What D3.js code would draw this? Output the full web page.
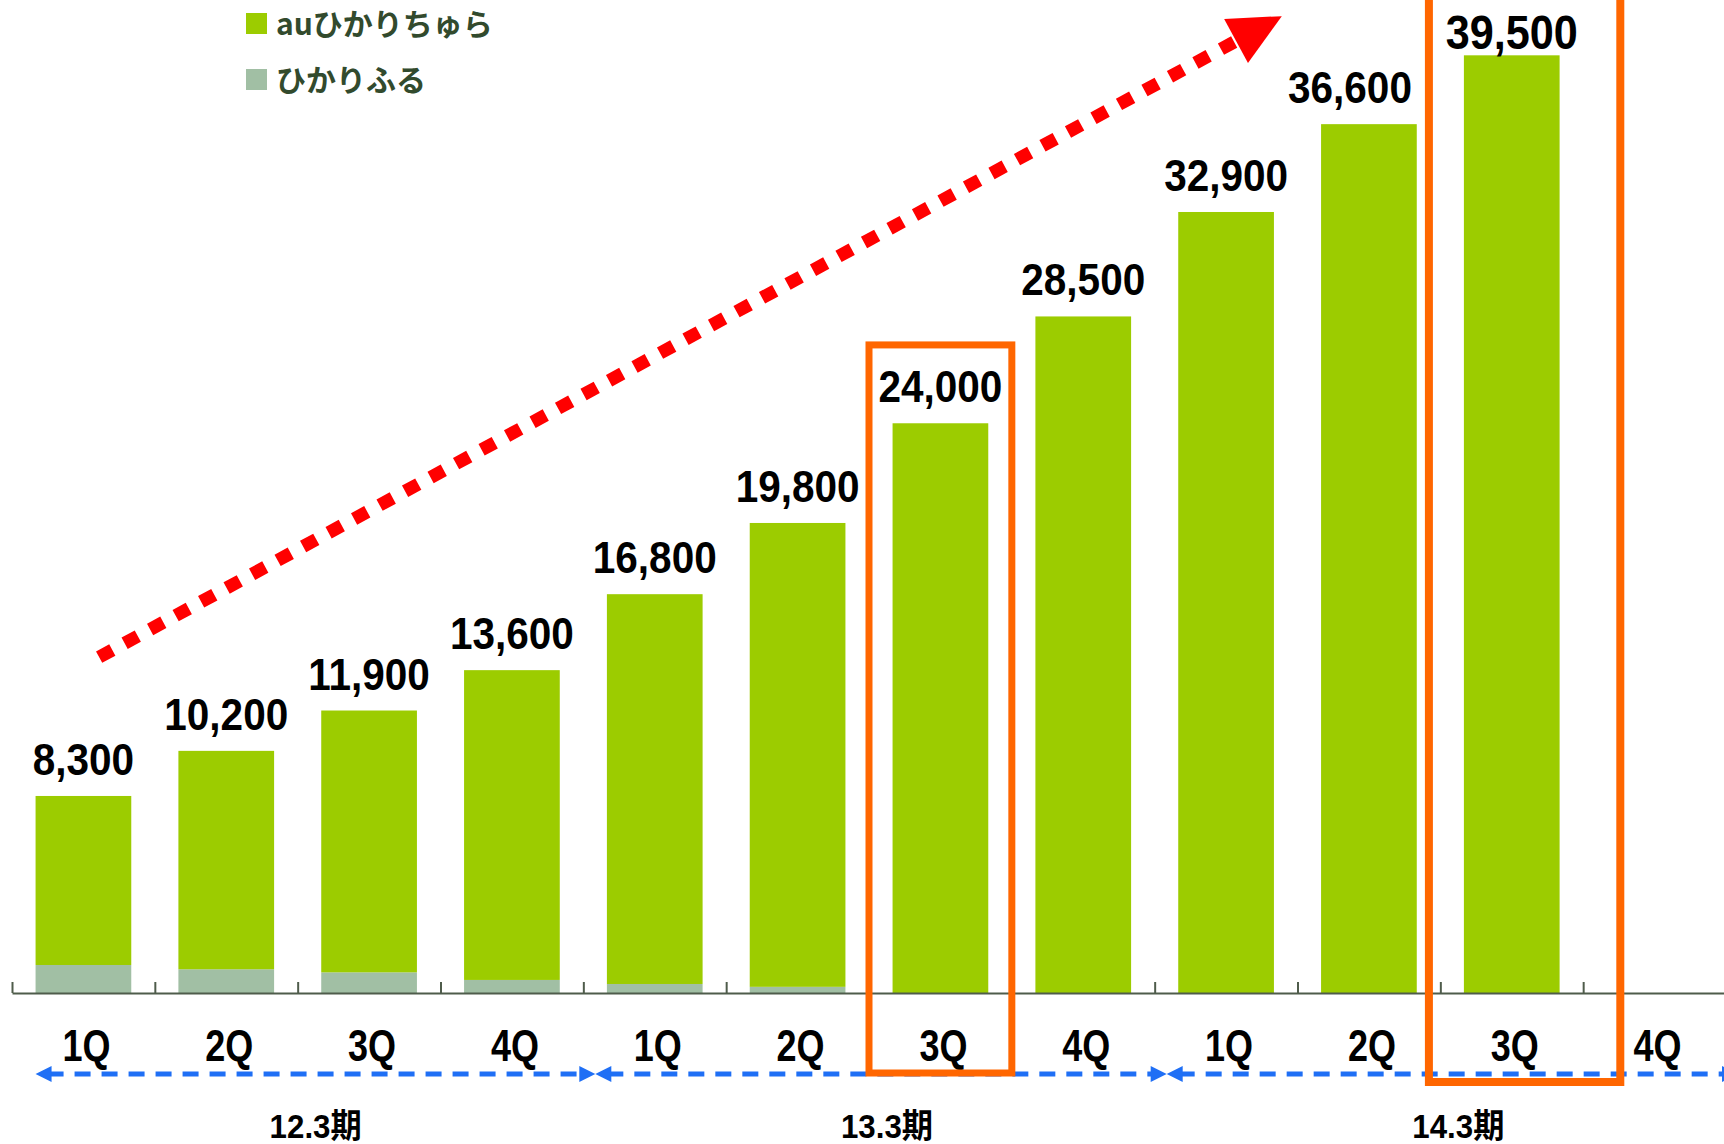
<!DOCTYPE html>
<html>
<head>
<meta charset="utf-8">
<script src="https://cdn.jsdelivr.net/npm/d3@7"></script>
<style>
  body { margin: 0; background: #fff; }
  svg { display: block; }
</style>
</head>
<body>
<div id="canvas"></div>
<script>
// data
const quarters = ["1Q", "2Q", "3Q", "4Q", "1Q", "2Q", "3Q", "4Q", "1Q", "2Q", "3Q", "4Q"];
const totals = [8300, 10200, 11900, 13600, 16800, 19800, 24000, 28500, 32900, 36600, 39500, null];
const hikariFuru = [1180, 1000, 870, 550, 380, 260, 0, 0, 0, 0, 0, 0];
const periods = ["12.3期", "13.3期", "14.3期"];
const legendNames = ["auひかりちゅら", "ひかりふる"];

const width = 1724;
const height = 1144;
const axisY = 993;

const green = "#9ccc00";
const grey = "#a1bfa4";
const orange = "#ff6600";

const svg = d3.select("#canvas").append("svg")
    .attr("width", width)
    .attr("height", height);

const idx = d3.range(quarters.length);

const x = d3.scaleBand()
    .domain(idx)
    .range([12, 1726])
    .paddingInner(0.33)
    .paddingOuter(0.165);

// continuous version of the band axis (boundaries at integers)
const xb = d3.scaleLinear().domain([0, quarters.length]).range([12, 1726]);

const y = d3.scaleLinear()
    .domain([0, 41830])
    .range([axisY, 0]);

// stacked bars
const rows = idx.filter(i => totals[i] != null).map(i => ({
    i: i,
    furu: hikariFuru[i],
    chura: totals[i] - hikariFuru[i]
}));
const stack = d3.stack().keys(["furu", "chura"])(rows);
const colors = { furu: grey, chura: green };

svg.append("g").selectAll("g").data(stack).enter().append("g")
    .attr("fill", d => colors[d.key])
    .selectAll("rect").data(d => d).enter().append("rect")
    .attr("x", d => x(d.data.i))
    .attr("y", d => y(d[1]))
    .attr("width", x.bandwidth())
    .attr("height", d => y(d[0]) - y(d[1]));

// axis with ticks on the category boundaries
const axis = svg.append("g")
    .attr("transform", `translate(0,${axisY})`)
    .call(d3.axisBottom(xb).tickValues(d3.range(quarters.length + 1)).tickSize(-11).tickSizeOuter(0).tickFormat(""));
axis.selectAll("path, line").attr("stroke", "#4f5c4b").attr("stroke-width", 2);

// highlight boxes (latest quarter box is the wide one)
const box2L = xb(9.92), box2R = xb(11.26);
const lastIdx = 10;

// value labels
const labels = svg.append("g").selectAll("text").data(rows).enter().append("text")
    .attr("transform", d => `translate(${x(d.i) + x.bandwidth() / 2},${y(totals[d.i]) - (d.i === lastIdx ? 6 : 21)}) scale(0.9,1)`)
    .attr("text-anchor", "middle")
    .style("font-family", "'Liberation Sans', Arial, sans-serif")
    .style("font-weight", "bold")
    .style("font-size", d => d.i === lastIdx ? "48px" : "45px")
    .attr("fill", "#000")
    .text(d => d3.format(",")(totals[d.i]));

// keep labels from running into the wide box
labels.each(function (d) {
    if (d.i === lastIdx) return;
    const w = this.getComputedTextLength() * 0.9;
    let cx = x(d.i) + x.bandwidth() / 2;
    if (cx + w / 2 > box2L - 17) cx = box2L - 17 - w / 2;
    d3.select(this).attr("transform", `translate(${cx},${y(totals[d.i]) - 21}) scale(0.9,1)`);
});

// quarter labels
svg.append("g").selectAll("text").data(idx).enter().append("text")
    .attr("transform", i => `translate(${x(i) + x.bandwidth() / 2 + 3},${axisY + 68}) scale(0.8,1)`)
    .attr("text-anchor", "middle")
    .style("font-family", "'Liberation Sans', Arial, sans-serif")
    .style("font-weight", "bold")
    .style("font-size", "45px")
    .attr("fill", "#000")
    .text(i => quarters[i]);

// fiscal period arrows
const blue = "#1f6ff5";
const lineY = axisY + 81;
const segs = periods.map((p, k) => ({
    name: p,
    x0: k === 0 ? x(0) : xb(4 * k) + 12,
    x1: xb(4 * k + 4) + 12,
    mid: xb(4 * k + 2) + 18
}));

const pg = svg.append("g");
segs.forEach(s => {
    pg.append("line")
        .attr("x1", s.x0 + 12).attr("x2", s.x1 - 12)
        .attr("y1", lineY).attr("y2", lineY)
        .attr("stroke", blue).attr("stroke-width", 5)
        .attr("stroke-dasharray", "16,11");
    pg.append("path")
        .attr("d", `M${s.x0},${lineY} L${s.x0 + 16},${lineY - 8} L${s.x0 + 16},${lineY + 8} Z`)
        .attr("fill", blue);
    pg.append("path")
        .attr("d", `M${s.x1},${lineY} L${s.x1 - 16},${lineY - 8} L${s.x1 - 16},${lineY + 8} Z`)
        .attr("fill", blue);
    pg.append("text")
        .attr("transform", `translate(${s.mid},${axisY + 145}) scale(0.92,1)`)
        .attr("text-anchor", "middle")
        .style("font-family", "'Liberation Sans', 'Noto Sans CJK JP', sans-serif")
        .style("font-weight", "bold")
        .style("font-size", "34px")
        .attr("fill", "#000")
        .text(s.name);
});

// orange highlight boxes
svg.append("rect")
    .attr("x", xb(6)).attr("y", y(27300))
    .attr("width", xb(7) - xb(6)).attr("height", axisY + 80 - y(27300))
    .attr("fill", "none").attr("stroke", orange).attr("stroke-width", 7);
svg.append("rect")
    .attr("x", box2L).attr("y", -20)
    .attr("width", box2R - box2L).attr("height", axisY + 89 + 20)
    .attr("fill", "none").attr("stroke", orange).attr("stroke-width", 8);

// red trend arrow
const red = "#ff0000";
const sx = xb(0.61), sy = y(14150);
const tx = xb(8.89), ty = y(41150);
const ang = Math.atan2(ty - sy, tx - sx);
const headLen = 52, headHalf = 25;
const bx = tx - headLen * Math.cos(ang), by = ty - headLen * Math.sin(ang);
const nx = -Math.sin(ang), ny = Math.cos(ang);
svg.append("line")
    .attr("x1", sx).attr("y1", sy)
    .attr("x2", bx + 4 * Math.cos(ang)).attr("y2", by + 4 * Math.sin(ang))
    .attr("stroke", red).attr("stroke-width", 13)
    .attr("stroke-dasharray", "15,14");
svg.append("path")
    .attr("d", `M${tx},${ty} L${bx + nx * headHalf},${by + ny * headHalf} L${bx - nx * headHalf},${by - ny * headHalf} Z`)
    .attr("fill", red);

// legend
const legend = svg.append("g").selectAll("g").data(legendNames).enter().append("g")
    .attr("transform", (d, i) => `translate(246,${13 + i * 56})`);
legend.append("rect")
    .attr("width", 21).attr("height", 21)
    .attr("fill", (d, i) => i === 0 ? green : grey);
legend.append("text")
    .attr("x", 30).attr("y", 22)
    .style("font-family", "'Noto Sans CJK JP', sans-serif")
    .style("font-weight", "bold")
    .style("font-size", "30px")
    .attr("fill", "#324a2d")
    .text(d => d);
</script>
</body>
</html>
